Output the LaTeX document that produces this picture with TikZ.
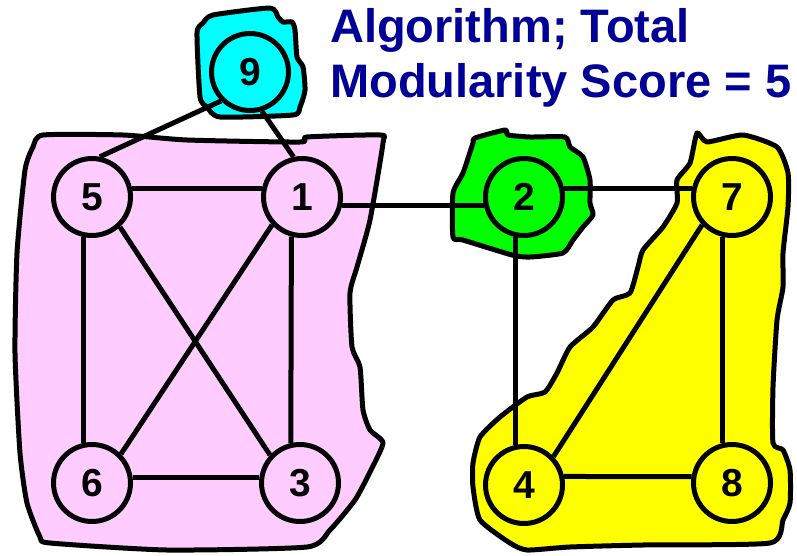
\documentclass[tikz,border=0pt]{standalone}
\usepackage{fontspec}
\setmainfont{Liberation Sans}
\usepackage{xcolor}
\definecolor{titleblue}{RGB}{0,0,150}
\definecolor{pinkbg}{RGB}{255,204,255}
\definecolor{cyanbg}{RGB}{0,255,255}
\definecolor{greenbg}{RGB}{0,255,0}
\definecolor{yellowbg}{RGB}{255,255,0}
\usepackage{tikz}
\usetikzlibrary{backgrounds}
\tikzset{
  vtx/.style={circle,draw=black,line width=5pt,
    minimum size=77pt,inner sep=0pt,
    font=\fontsize{39}{39}\selectfont\bfseries},
  blob/.style={draw=black,line width=5pt,line join=round},
  edg/.style={line width=5pt,draw=black},
  ttl/.style={anchor=base west,text=titleblue,inner sep=0pt,
    font=\fontsize{47}{55}\selectfont\bfseries},
}

\begin{document}
\begin{tikzpicture}[x=1pt,y=-1pt]

  \useasboundingbox (0,0) rectangle (797,556);

  \node (v5) [vtx,fill=pinkbg]   at (92,197)  {5};
  \node (v1) [vtx,fill=pinkbg]   at (302,197) {1};
  \node (v6) [vtx,fill=pinkbg]   at (92,483)  {6};
  \node (v3) [vtx,fill=pinkbg]   at (300,483) {3};
  \node (v9) [vtx,fill=cyanbg]   at (250,72)  {9};
  \node (v2) [vtx,fill=greenbg]  at (524,197) {2};
  \node (v7) [vtx,fill=yellowbg] at (732,197) {7};
  \node (v4) [vtx,fill=yellowbg] at (524,485) {4};
  \node (v8) [vtx,fill=yellowbg] at (732,483) {8};

  \node (title1) [ttl] at (330,43) {Algorithm; Total};
  \node (title2) [ttl] at (330,98) {Modularity Score = 5};

  \draw[edg] (v9.225) -- (v5.79);
  \draw[edg] (v9.287) -- (v1.102);
  \draw[edg] (v5.12)  -- (v1.168);
  \draw[edg] (v5.258) -- (v6.102);
  \draw[edg] (v5.-47) -- (v3.137);
  \draw[edg] (v1.223) -- (v6.45);
  \draw[edg] (v1.255) -- (v3.103);
  \draw[edg] (v6.8)   -- (v3.172);
  \draw[edg] (v1.-12) -- (v2.192);
  \draw[edg] (v2.12)  -- (v7.168);
  \draw[edg] (v2.258) -- (v4.102);
  \draw[edg] (v7.223) -- (v4.44);
  \draw[edg] (v7.257) -- (v8.103);
  \draw[edg] (v4.12)  -- (v8.171);

  \begin{pgfonlayer}{background}
    \draw[blob,fill=pinkbg] plot[smooth cycle,tension=0.35] coordinates {
      (43,135) (123,135) (187,140) (300,142) (307,137) (380,135)
      (383,143) (370,220) (357,267) (350,293) (352,347) (360,367)
      (363,410) (370,430) (383,443) (370,472) (355,500) (330,530)
      (307,547) (167,550) (50,543) (40,537) (27,503) (20,453)
      (15,353) (17,253) (25,170) (33,147)};
    \draw[blob,fill=cyanbg] plot[smooth cycle,tension=0.35] coordinates {
      (203,23) (213,15) (270,8) (278,17) (283,22) (292,22) (295,30)
      (297,57) (303,67) (305,90) (300,107) (293,115) (220,117)
      (207,107) (200,97) (197,33)};
    \draw[blob,fill=greenbg] plot[smooth cycle,tension=0.35] coordinates {
      (475,138) (505,130) (508,135) (530,137) (565,137) (570,147)
      (583,157) (590,180) (590,203) (593,215) (583,227) (573,240)
      (563,253) (530,257) (512,255) (463,240) (453,237) (453,193)
      (463,173) (473,143)};
    \draw[blob,fill=yellowbg] plot[smooth cycle,tension=0.35] coordinates {
      (697,133) (707,142) (743,135) (777,147) (788,173) (788,207)
      (783,253) (783,287) (777,320) (773,387) (773,443) (783,450)
      (790,470) (790,503) (783,520) (770,543) (643,545) (570,547)
      (527,550) (510,543) (480,520) (473,487) (473,463) (480,437)
      (500,417) (527,397) (545,392) (557,373) (570,347) (593,327)
      (613,300) (630,293) (638,267) (643,250) (663,227) (677,203)
      (677,180) (690,163)};
  \end{pgfonlayer}

\end{tikzpicture}
\end{document}
